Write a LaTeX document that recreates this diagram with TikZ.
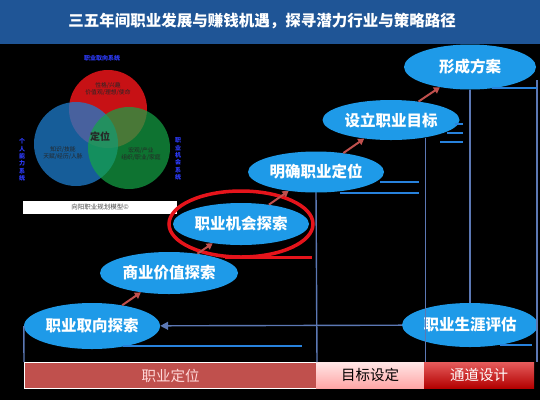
\documentclass[tikz,border=0pt]{standalone}
\usepackage{fontspec}
\setmainfont{Noto Sans CJK SC}
\usetikzlibrary{shapes.geometric,arrows.meta}

\definecolor{titlebg}{RGB}{31,85,150}
\definecolor{ballblue}{RGB}{30,154,232}
\definecolor{arrowred}{RGB}{192,80,77}
\definecolor{linegray}{RGB}{92,120,180}
\definecolor{shadowblue}{RGB}{40,130,220}
\definecolor{labelblue}{RGB}{45,60,255}
\definecolor{vennred}{RGB}{235,20,25}
\definecolor{vennblue}{RGB}{30,125,205}
\definecolor{venngreen}{RGB}{20,165,70}
\definecolor{markred}{RGB}{230,20,27}

\tikzset{
  stepball/.style={ellipse, fill=ballblue, text=white, inner sep=0pt, font=\bfseries\fontsize{15.5}{16}\selectfont},
  uparrow/.style={draw=arrowred, line width=2pt, -{Triangle[length=6pt,width=7pt]}},
  backline/.style={draw=linegray, line width=1.4pt},
  shadowline/.style={draw=shadowblue, line width=2pt},
  barbox/.style={anchor=north west, minimum height=26pt, inner sep=0pt, font=\fontsize{14.5}{15}\selectfont},
  venntext/.style={font=\fontsize{5.8}{7.5}\selectfont, align=center, text=black!85},
  vennlabel/.style={font=\bfseries\fontsize{6}{7.4}\selectfont, text=labelblue, align=center}
}

\begin{document}
\begin{tikzpicture}[x=1pt,y=1pt,yscale=-1,xscale=1]
    %set diagram to 540 x 400
    \fill[black] (0,0) rectangle (540,400);
    \useasboundingbox (0,0) rectangle (540,400);

    %Shape: Title bar
    \fill[titlebg] (0,0) rectangle (540,44);
    % Text Node
    \node[text=white, font=\bfseries\fontsize{15.5}{16}\selectfont] (title) at (262,21) {三五年间职业发展与赚钱机遇，探寻潜力行业与策略路径};

    %Shape: Venn circles
    \fill[vennred, fill opacity=0.85] (108,109) circle (39);
    \fill[vennblue, fill opacity=0.75] (76,144) circle (42);
    \fill[venngreen, fill opacity=0.7] (129,148) circle (41);
    % Text Node
    \node[venntext] (redtext) at (108,89) {性格/兴趣\\价值观/理想/使命};
    \node[venntext] (bluetext) at (63,153) {知识/技能\\天赋/经历/人脉};
    \node[venntext] (greentext) at (141,154) {宏观/产业\\组织/职业/家庭};
    \node[font=\bfseries\fontsize{10}{10}\selectfont, text=black!85] (centertext) at (100,137) {定位};
    \node[vennlabel] (toplabel) at (102,58) {职业取向系统};
    \node[vennlabel] (leftlabel) at (22,160) {个\\人\\能\\力\\系\\统};
    \node[vennlabel] (rightlabel) at (178,159) {职\\业\\机\\会\\系\\统};
    \node[fill=white, minimum width=154pt, minimum height=13pt, inner sep=0pt, text=black!70, font=\fontsize{6.5}{7}\selectfont] (modelbox) at (100,207.5) {向阳职业规划模型©};

    %Shape: Bottom bars
    \node[barbox, minimum width=292pt, fill=arrowred, draw=white, line width=1pt, text=red!15] (posbar) at (24,362) {职业定位};
    \node[barbox, minimum width=108pt, top color=red!10, bottom color=red!35, text=black] (goalbar) at (316,362) {目标设定};
    \node[barbox, minimum width=110pt, top color=red!60!white!90!black, bottom color=red!70!black, text=white] (pathbar) at (424,362) {通道设计};

    %Shape: Ellipses
    \node[stepball, minimum width=136pt, minimum height=46pt] (orient) at (92,326) {职业取向探索};
    \node[stepball, minimum width=138pt, minimum height=42pt] (value) at (169,273) {商业价值探索};
    \node[stepball, minimum width=136pt, minimum height=42pt] (chance) at (241,224) {职业机会探索};
    \node[stepball, minimum width=136pt, minimum height=41pt] (define) at (316,172) {明确职业定位};
    \node[stepball, minimum width=137pt, minimum height=40pt] (goal) at (391,120) {设立职业目标};
    \node[stepball, minimum width=132pt, minimum height=45pt] (plan) at (470,67) {形成方案};
    \node[stepball, minimum width=136pt, minimum height=44pt] (eval) at (470,325) {职业生涯评估};

    %Shape: Red highlight
    \draw[markred, line width=3.5pt] (chance) ellipse (72 and 33);
    \draw[markred, line width=3pt] (225,257) -- (312,257);

    %Straight Lines
    \draw[uparrow] (orient) -- (value);
    \draw[uparrow] (value) -- (chance);
    \draw[uparrow] (chance) -- (define);
    \draw[uparrow] (define) -- (goal);
    \draw[uparrow] (goal) -- (plan);

    \draw[backline, -{Triangle[length=8pt,width=8pt]}] (eval) -- (orient);
    \draw[backline] (orient.west) -- (posbar.north west);
    \draw[backline] (define.south) -- (posbar.north east);
    \draw[backline] (goal.-27) -- (goal.-27 |- goalbar.north east);
    \draw[backline] (plan.south) -- (eval.north);
    \coordinate (edgetop) at (537,80);
    \draw[backline] (edgetop) -- (edgetop |- pathbar.north east);

    %Shape: shadow remnants
    \draw[shadowline] (123,346) -- (302,346);
    \draw[shadowline] (380,182) -- (419,182);
    \draw[shadowline] (340,193) -- (419,193);
    \draw[shadowline] (455,124) -- (463,124);
    \draw[shadowline] (447,133) -- (463,133);
    \draw[shadowline] (440,142) -- (463,142);
    \draw[shadowline] (492,88) -- (537,88);
    \draw[shadowline] (500,345) -- (532,345);

\end{tikzpicture}
\end{document}
